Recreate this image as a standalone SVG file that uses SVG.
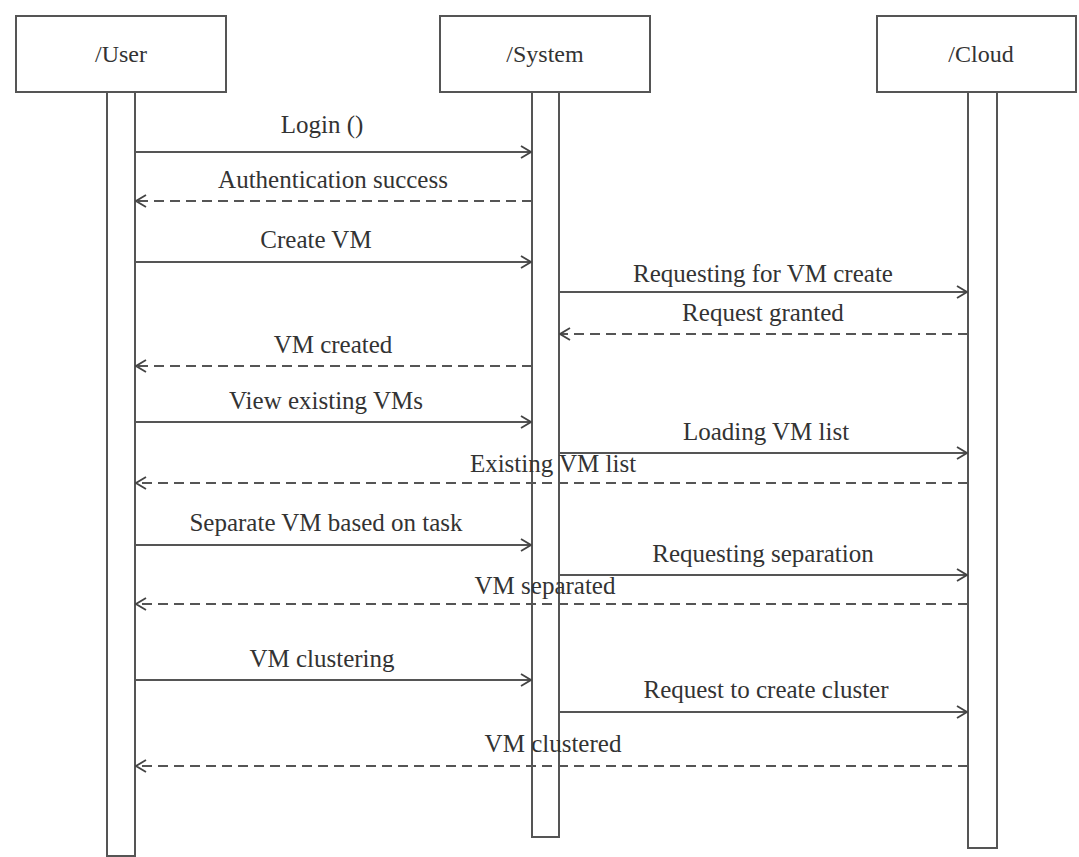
<svg xmlns="http://www.w3.org/2000/svg" width="1079" height="857" viewBox="0 0 1079 857">
<defs>
<style>
.box{fill:#fff;stroke:#555;stroke-width:2}
.bar{fill:#fff;stroke:#555;stroke-width:2}
.lbl{font-family:"Liberation Serif","Times New Roman",serif;font-size:25px;fill:#333;text-anchor:middle}
.hd{font-size:24px}
.msg{stroke:#555;stroke-width:1.8;fill:none}
.ret{stroke:#555;stroke-width:1.8;fill:none;stroke-dasharray:10 6}
</style>
<marker id="ah" viewBox="0 0 12 14" refX="11" refY="7" markerWidth="12" markerHeight="14" markerUnits="userSpaceOnUse" orient="auto">
<path d="M1,1 L11,7 L1,13" fill="none" stroke="#444" stroke-width="1.8"/>
</marker>
</defs>
<rect width="1079" height="857" fill="#fff"/>
<g id="user">
<rect class="box" x="16" y="16" width="210" height="76"/>
<text class="lbl hd" x="121" y="62">/User</text>
<rect class="bar" x="107" y="92" width="28" height="764"/>
</g>
<g id="system">
<rect class="box" x="440" y="16" width="210" height="76"/>
<text class="lbl hd" x="545" y="62">/System</text>
<rect class="bar" x="532" y="92" width="27" height="745"/>
</g>
<g id="cloud">
<rect class="box" x="877" y="16" width="199" height="76"/>
<text class="lbl hd" x="981" y="62">/Cloud</text>
<rect class="bar" x="968" y="92" width="29" height="756"/>
</g>
<g id="connectors">
<line class="msg" x1="135" y1="152" x2="531" y2="152" marker-end="url(#ah)"/>
<line class="ret" x1="532" y1="201" x2="136" y2="201" marker-end="url(#ah)"/>
<line class="msg" x1="135" y1="262" x2="531" y2="262" marker-end="url(#ah)"/>
<line class="msg" x1="559" y1="292" x2="967" y2="292" marker-end="url(#ah)"/>
<line class="ret" x1="968" y1="334" x2="560" y2="334" marker-end="url(#ah)"/>
<line class="ret" x1="532" y1="366" x2="136" y2="366" marker-end="url(#ah)"/>
<line class="msg" x1="135" y1="422" x2="531" y2="422" marker-end="url(#ah)"/>
<line class="msg" x1="559" y1="453" x2="967" y2="453" marker-end="url(#ah)"/>
<line class="ret" x1="968" y1="483" x2="136" y2="483" marker-end="url(#ah)"/>
<line class="msg" x1="135" y1="545" x2="531" y2="545" marker-end="url(#ah)"/>
<line class="msg" x1="559" y1="575" x2="967" y2="575" marker-end="url(#ah)"/>
<line class="ret" x1="968" y1="604" x2="136" y2="604" marker-end="url(#ah)"/>
<line class="msg" x1="135" y1="680" x2="531" y2="680" marker-end="url(#ah)"/>
<line class="msg" x1="559" y1="712" x2="967" y2="712" marker-end="url(#ah)"/>
<line class="ret" x1="968" y1="766" x2="136" y2="766" marker-end="url(#ah)"/>
</g>
<g id="labels">
<text class="lbl" x="322" y="133">Login ()</text>
<text class="lbl" x="333" y="188">Authentication success</text>
<text class="lbl" x="316" y="248">Create VM</text>
<text class="lbl" x="763" y="282">Requesting for VM create</text>
<text class="lbl" x="763" y="321">Request granted</text>
<text class="lbl" x="333" y="353">VM created</text>
<text class="lbl" x="326" y="409">View existing VMs</text>
<text class="lbl" x="766" y="440">Loading VM list</text>
<text class="lbl" x="553" y="472">Existing VM list</text>
<text class="lbl" x="326" y="531">Separate VM based on task</text>
<text class="lbl" x="763" y="562">Requesting separation</text>
<text class="lbl" x="545" y="594">VM separated</text>
<text class="lbl" x="322" y="667">VM clustering</text>
<text class="lbl" x="766" y="698">Request to create cluster</text>
<text class="lbl" x="553" y="752">VM clustered</text>
</g>
</svg>
